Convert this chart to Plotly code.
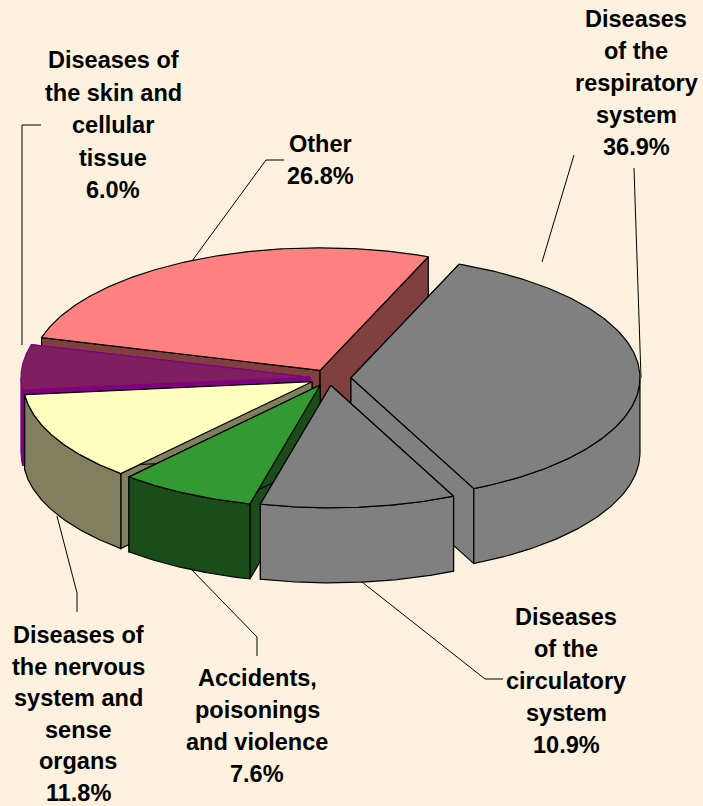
import numpy as np
import plotly.graph_objects as go

# ---- data ----
categories = ["Diseases of the respiratory system", "Diseases of the circulatory system",
              "Accidents, poisonings and violence", "Diseases of the nervous system and sense organs",
              "Diseases of the skin and cellular tissue", "Other"]
shares = [36.9, 10.9, 7.6, 11.8, 6.0, 26.8]
explode = [0.076, 0.060, 0.065, 0.066, 0.066, 0.070]
top_colors = ["#808080", "#808080", "#339933", "#FFFFC0", "#7F1F5F", "#FF8080"]
side_colors = ["#808080", "#808080", "#1A4D1A", "#808060", "#800080", "#804040"]
edge_colors = ["#000000", "#000000", "#000000", "#000000", "#800080", "#000000"]
draw_order = [5, 4, 0, 3, 2, 1]

label_lines = [
    ["Diseases", "of the", "respiratory", "system", "36.9%"],
    ["Diseases", "of the", "circulatory", "system", "10.9%"],
    ["Accidents,", "poisonings", "and violence", "7.6%"],
    ["Diseases of", "the nervous", "system and", "sense", "organs", "11.8%"],
    ["Diseases of", "the skin and", "cellular", "tissue", "6.0%"],
    ["Other", "26.8%"],
]
label_x = [636, 566, 257, 78, 113, 320]
label_y0 = [19, 617, 678, 635, 60, 144]
label_step = [32, 32, 32, 31.6, 32.5, 32]

leaders = [
    ([542, 574], [262, 155]),
    ([634, 641], [168, 378]),
    ([362, 485, 503], [582, 679, 679]),
    ([190, 257, 257], [568, 637, 656]),
    ([57, 77, 77], [516, 593, 612]),
    ([41, 22, 22], [125, 125, 345]),
    ([192, 266, 284], [261, 160, 160]),
]

# ---- pie geometry ----
CX, CY, RX, RY, DEPTH = 329, 378, 289, 122.5, 75
START = 22.0
FONT = "Liberation Sans, Arial, sans-serif"

fracs = np.array(shares) / sum(shares)
edges = START + 360 * np.concatenate([[0], np.cumsum(fracs)])


def rim(a, ox, oy, dz=0):
    r = np.radians(a)
    return ox + RX * np.sin(r), oy - RY * np.cos(r) + dz


fig = go.Figure()


def poly(xs, ys, fill, line, w=1.2):
    fig.add_trace(go.Scatter(x=list(xs) + [xs[0]], y=list(ys) + [ys[0]], mode="lines", fill="toself",
                             fillcolor=fill, line=dict(color=line, width=w), hoverinfo="skip",
                             showlegend=False))


for i in draw_order:
    a0, a1 = edges[i], edges[i + 1]
    m = np.radians((a0 + a1) / 2)
    ox = CX + explode[i] * RX * np.sin(m)
    oy = CY - explode[i] * RY * np.cos(m)
    # cut faces
    for a in (a0, a1):
        ex, ey = rim(a, ox, oy)
        poly([ox, ex, ex, ox], [oy, ey, ey + DEPTH, oy + DEPTH], side_colors[i], edge_colors[i])
    # outer wall: only the front half of the rim can be seen
    lo, hi = max(a0, 90), min(a1, 270)
    if hi > lo:
        t = np.linspace(lo, hi, 80)
        wx, wy = rim(t, ox, oy)
        poly(np.r_[wx, wx[::-1]], np.r_[wy, wy[::-1] + DEPTH], side_colors[i], edge_colors[i])
    # top
    t = np.linspace(a0, a1, 160)
    tx, ty = rim(t, ox, oy)
    poly(np.r_[ox, tx], np.r_[oy, ty], top_colors[i], edge_colors[i])

for lx, ly in leaders:
    fig.add_trace(go.Scatter(x=lx, y=ly, mode="lines", line=dict(color="#000000", width=1),
                             hoverinfo="skip", showlegend=False))

for lines, x, y0, step in zip(label_lines, label_x, label_y0, label_step):
    for k, s in enumerate(lines):
        fig.add_annotation(x=x, y=y0 + k * step, text=f"<b>{s}</b>", showarrow=False,
                           xanchor="center", yanchor="middle",
                           font=dict(family=FONT, size=23.5, color="#000000"))

fig.update_layout(width=703, height=806, margin=dict(l=0, r=0, t=0, b=0),
                  paper_bgcolor="#FBF1DE", plot_bgcolor="#FBF1DE", showlegend=False,
                  xaxis=dict(range=[0, 703], visible=False, fixedrange=True),
                  yaxis=dict(range=[806, 0], visible=False, fixedrange=True))
fig.write_html("out.html", config={"displayModeBar": False},
               post_script="document.body.style.margin='0';document.body.style.background='#FBF1DE';")
